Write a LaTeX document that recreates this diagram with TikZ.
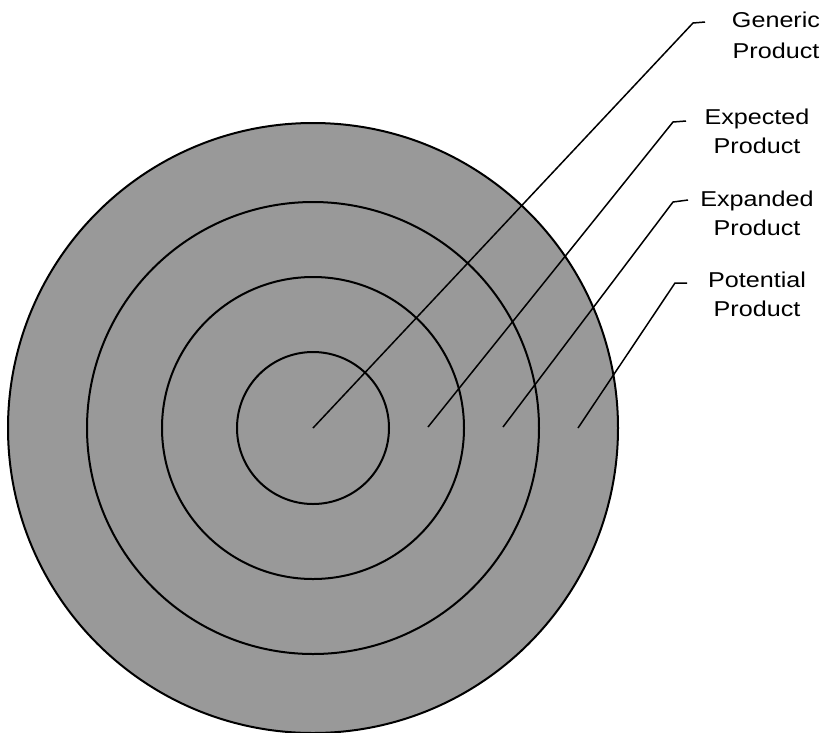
\documentclass[tikz,border=0pt]{standalone}
\usepackage{fontspec}
\newfontfamily\lab[FakeStretch=1.17]{Liberation Sans}
\definecolor{ringgrey}{gray}{0.6}
\begin{document}
\begin{tikzpicture}[x=1pt,y=-1pt,
  ring/.style={draw=black,line width=2pt},
  leader/.style={draw=black,line width=1.5pt},
  lbl/.style={anchor=north,align=center,inner sep=0pt,
    font=\lab\fontsize{21.5}{28.5}\selectfont}]
\useasboundingbox[fill=white] (0,0) rectangle (828,732);
% rings
\fill[ringgrey] (313,428) circle[radius=305pt];
\draw[ring] (313,428) circle[radius=305pt];
\draw[ring] (313,428) circle[radius=226pt];
\draw[ring] (313,428) circle[radius=151pt];
\draw[ring] (313,428) circle[radius=76pt];
% labels
\node[lbl,font=\lab\fontsize{21.5}{31}\selectfont] (gen) at (776,12) {Generic\\Product};
\node[lbl] (exp) at (757,109) {Expected\\Product};
\node[lbl] (exd) at (757,191) {Expanded\\Product};
\node[lbl] (pot) at (757,272) {Potential\\Product};
% leader points
\coordinate (gs) at (313,428); \coordinate (gk) at (693,23); \coordinate (ge) at (705,22);
\coordinate (es) at (428,427); \coordinate (ek) at (673,122); \coordinate (ee) at (686,121);
\coordinate (xs) at (503,427); \coordinate (xk) at (673,202); \coordinate (xe) at (688,200);
\coordinate (ps) at (578,428); \coordinate (pk) at (675,283); \coordinate (pe) at (687,283);
\draw[leader] (gs) -- (gk) -- (ge);
\draw[leader] (es) -- (ek) -- (ee);
\draw[leader] (xs) -- (xk) -- (xe);
\draw[leader] (ps) -- (pk) -- (pe);
\end{tikzpicture}
\end{document}
